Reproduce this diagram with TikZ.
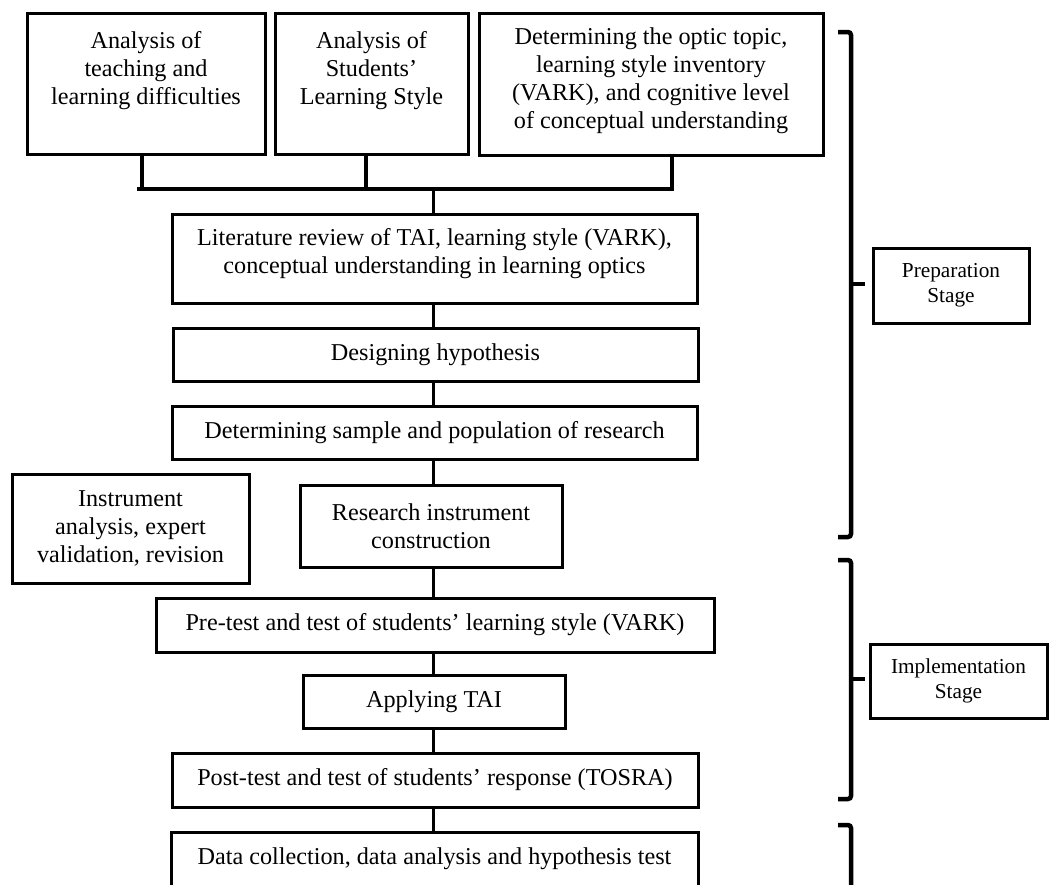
\documentclass[tikz,border=0pt]{standalone}
\usepackage{fontspec}
\setmainfont{Liberation Serif}
\begin{document}
\begin{tikzpicture}[x=1pt,y=-1pt,
  box/.style={draw, line width=3pt, inner sep=0pt, align=center,
    font=\fontsize{24.2}{28}\selectfont},
  txt/.style={align=center, inner sep=0pt, font=\fontsize{24.2}{28}\selectfont},
  stagebox/.style={draw, line width=3pt, inner sep=0pt, align=center,
    font=\fontsize{21.3}{25}\selectfont},
  conn/.style={line width=3.2pt},
  brk/.style={line width=4.5pt, rounded corners=3pt}]
\useasboundingbox (0,0) rectangle (1049,884);

% top row
\node[box, minimum width=238pt, minimum height=141pt] (b1) at (146,83.5) {};
\node[txt] (b1t) at (146,71) {Analysis of\\teaching and\\learning difficulties};
\node[box, minimum width=193pt, minimum height=141pt] (b2) at (371.5,83.5) {};
\node[txt] (b2t) at (371.5,71) {Analysis of\\Students’\\Learning Style};
\node[box, minimum width=344pt, minimum height=142pt] (b3) at (651,84) {};
\node[txt] (b3t) at (651,80.5) {Determining the optic topic,\\learning style inventory\\(VARK), and cognitive level\\of conceptual understanding};

% main column
\node[box, minimum width=525pt, minimum height=89pt] (lit) at (434.5,258.5) {};
\node[txt] (litt) at (434.5,254) {Literature review of TAI, learning style (VARK),\\conceptual understanding in learning optics};
\node[box, minimum width=525pt, minimum height=53pt] (des) at (435.5,354.5) {Designing hypothesis};
\node[box, minimum width=525pt, minimum height=53pt] (samp) at (434.5,432.5) {Determining sample and population of research};
\node[box, minimum width=237pt, minimum height=109pt] (inst) at (130.5,528.5) {Instrument\\analysis, expert\\validation, revision};
\node[box, minimum width=262pt, minimum height=82pt] (res) at (431,526) {Research instrument\\construction};
\node[box, minimum width=558pt, minimum height=54pt] (pre) at (435,625) {Pre-test and test of students’ learning style (VARK)};
\node[box, minimum width=262pt, minimum height=53pt] (app) at (434,701.5) {Applying TAI};
\node[box, minimum width=526pt, minimum height=54pt] (post) at (435,780) {Post-test and test of students’ response (TOSRA)};
\node[box, minimum width=527pt, minimum height=54pt] (data) at (434.5,859) {Data collection, data analysis and hypothesis test};

% stage labels
\node[stagebox, minimum width=156pt, minimum height=75pt] (prep) at (951,285.5) {Preparation\\Stage};
\node[stagebox, minimum width=177pt, minimum height=74pt] (impl) at (958.5,681) {Implementation\\Stage};

% connectors of the top row
\coordinate (j1) at (142,189);
\coordinate (j2) at (366,189);
\coordinate (j3) at (672,189);
\coordinate (jm) at (433.5,189);
\coordinate (hl) at (137,189);
\draw[conn] (b1.south -| j1) -- (j1);
\draw[conn] (b2.south -| j2) -- (j2);
\draw[conn] (b3.south -| j3) -- (j3);
\draw[conn] (hl) -- ([xshift=1.5pt]j3);
\draw[conn] (jm) -- (lit.north -| jm);

% spine
\coordinate (sp) at (433.5,0);
\draw[conn] (lit.south -| sp) -- (des.north -| sp);
\draw[conn] (des.south -| sp) -- (samp.north -| sp);
\draw[conn] (samp.south -| sp) -- (res.north -| sp);
\draw[conn] (res.south -| sp) -- (pre.north -| sp);
\draw[conn] (pre.south -| sp) -- (app.north -| sp);
\draw[conn] (app.south -| sp) -- (post.north -| sp);
\draw[conn] (post.south -| sp) -- (data.north -| sp);

% brackets
\coordinate (p1) at (838,32);
\coordinate (p2) at (838,537);
\coordinate (pt) at (851,284);
\draw[brk] (p1) -- (851,32) -- (851,537) -- (p2);
\draw[line width=4.5pt] (pt) -- ++(14,0);

\coordinate (i1) at (838,560);
\coordinate (i2) at (838,799);
\coordinate (it) at (851,679);
\draw[brk] (i1) -- (851,560) -- (851,799) -- (i2);
\draw[line width=4.5pt] (it) -- ++(14,0);

\coordinate (d1) at (838,825);
\coordinate (d2) at (851,895);
\draw[brk] (d1) -- (851,825) -- (d2);
\end{tikzpicture}
\end{document}
